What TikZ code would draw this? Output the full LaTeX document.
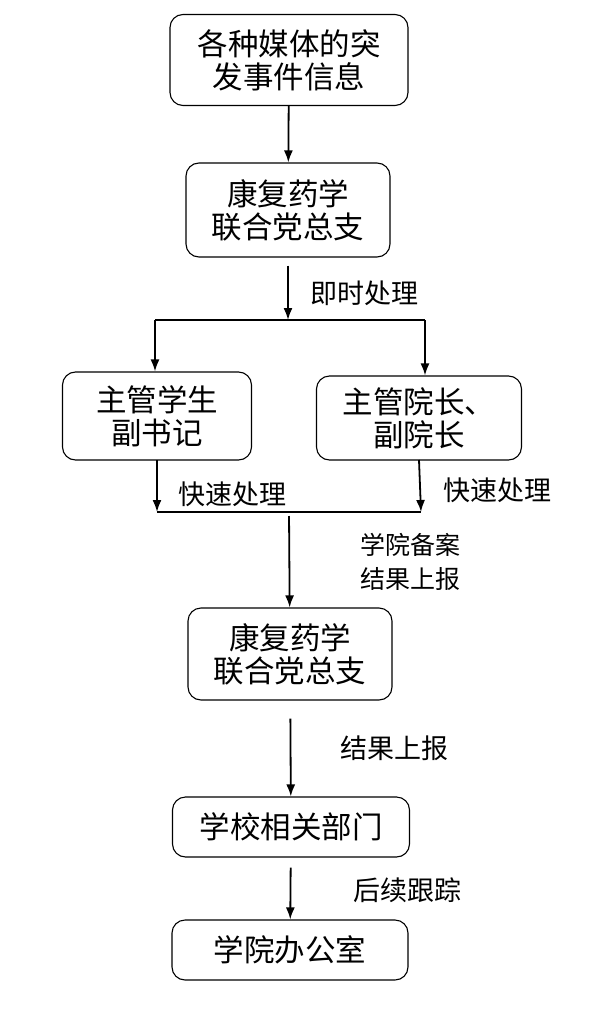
\documentclass[tikz,border=0pt]{standalone}
\usepackage{fontspec}
\newfontfamily\cjk{Noto Sans CJK SC}
\usetikzlibrary{positioning, arrows.meta}
\tikzset{
    arrow/.style={draw,line width=1.8pt,-{Latex[length=12pt,width=9pt]}},
    line/.style={draw,line width=1.8pt},
    block/.style={shape=rectangle,draw,line width=1.1pt,rounded corners=13pt,
        align=center,font=\cjk\fontsize{30.5}{33}\selectfont,inner sep=0pt},
    note/.style={anchor=west,align=left,inner sep=0pt,font=\cjk\fontsize{27}{29}\selectfont}
}

\begin{document}
\begin{tikzpicture}[x=1pt,y=-1pt]
    \useasboundingbox (0,0) rectangle (605,1011);

    % nodes
    \node [block, minimum width=238pt, minimum height=91pt] at (289,60)  (src)    {各种媒体的突\\发事件信息};
    \node [block, minimum width=204pt, minimum height=94pt] at (288,210) (party)  {康复药学\\联合党总支};
    \node [block, minimum width=189pt, minimum height=88pt] at (157,416) (stu)    {主管学生\\副书记};
    \node [block, minimum width=205pt, minimum height=84pt] at (419,418) (dean)   {主管院长、\\副院长};
    \node [block, minimum width=204pt, minimum height=92pt] at (290,654) (party2) {康复药学\\联合党总支};
    \node [block, minimum width=237pt, minimum height=60pt] at (291,827) (school) {学校相关部门};
    \node [block, minimum width=236pt, minimum height=60pt] at (290,950) (office) {学院办公室};

    % zwischenpunkte
    \coordinate (split) at (288,320);
    \coordinate (sl) at (155,320);
    \coordinate (sr) at (425,320);
    \coordinate (ml) at (157,512);
    \coordinate (mr) at (421,512);
    \coordinate (mm) at (289,512);

    % labels
    \node [note] at (310,293) (l1) {即时处理};
    \node [note] at (178,494) (l2) {快速处理};
    \node [note] at (443,490) (l3) {快速处理};
    \node [note, font=\cjk\fontsize{25}{34}\selectfont] at (360,562) (l4) {学院备案\\结果上报};
    \node [note] at (340,748) (l5) {结果上报};
    \node [note] at (353,890) (l6) {后续跟踪};

    % draw arrows
    \draw [arrow] (src) -- (party);
    \draw [arrow, shorten <=8pt] (party) -- (split);
    \draw [line] (sl) -- (sr);
    \draw [arrow] (sl) -- (sl |- stu.north);
    \draw [arrow] (sr) -- (sr |- dean.north);
    \draw [arrow] (stu.south |- ml) ++(0,-52) -- (ml);
    \draw [arrow] (dean.south |- mr) ++(0,-52) -- (mr);
    \draw [line] (ml) -- (mr);
    \draw [arrow, shorten <=4pt] (mm) -- (party2);
    \draw [arrow, shorten <=18pt] (party2) -- (school);
    \draw [arrow, shorten <=10pt] (school) -- (office);
\end{tikzpicture}
\end{document}
